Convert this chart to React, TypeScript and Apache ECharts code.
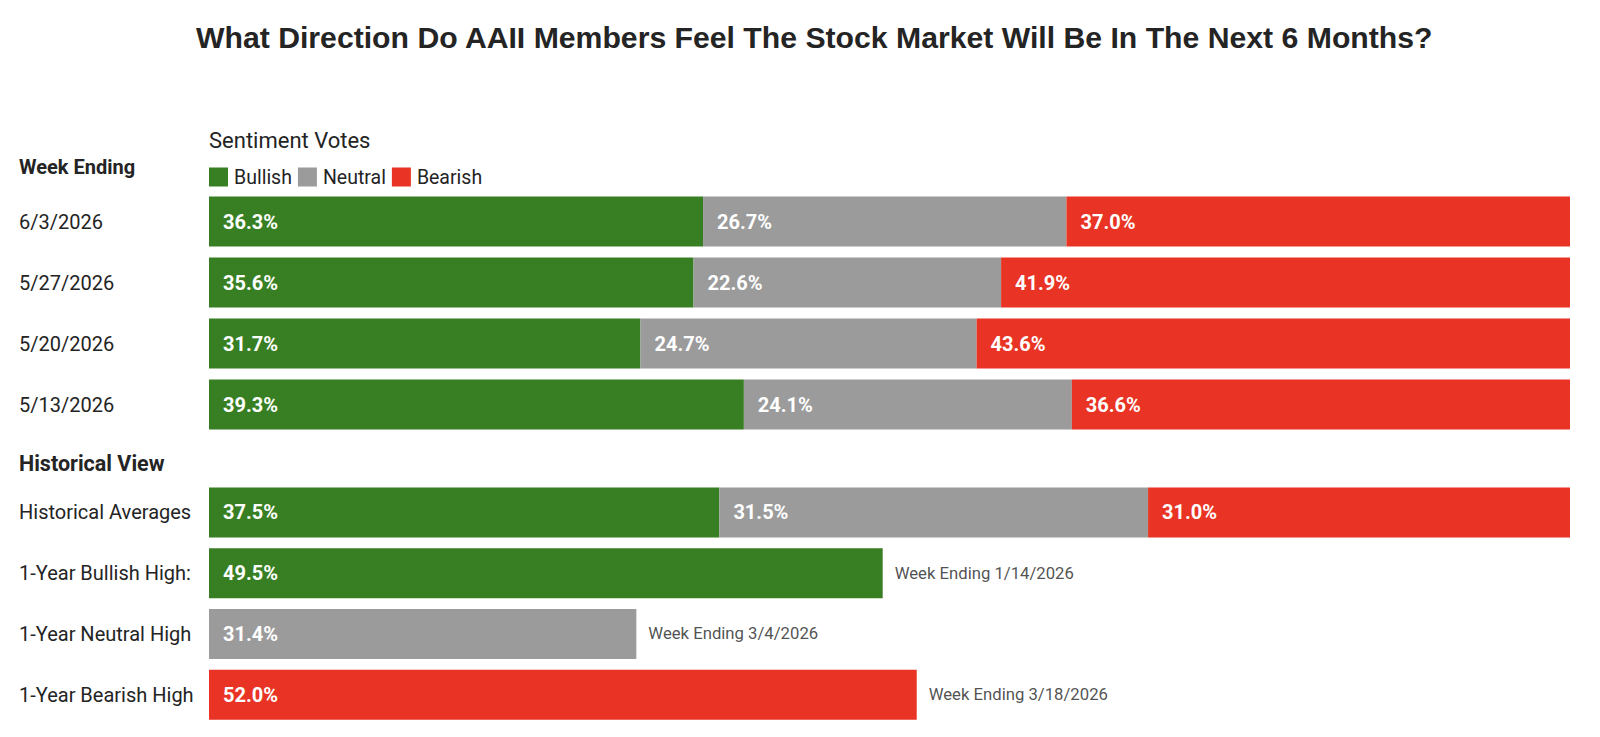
import React, { useEffect, useRef } from "react";
import * as echarts from "echarts";

const titleText = "What Direction Do AAII Members Feel The Stock Market Will Be In The Next 6 Months?";
const weeks = ["6/3/2026", "5/27/2026", "5/20/2026", "5/13/2026"];
const weekBullish = [36.3, 35.6, 31.7, 39.3];
const weekNeutral = [26.7, 22.6, 24.7, 24.1];
const weekBearish = [37.0, 41.9, 43.6, 36.6];

const histLabels = ["Historical Averages", "1-Year Bullish High:", "1-Year Neutral High", "1-Year Bearish High"];
const histBullish = [37.5, 49.5, 0, 0];
const histNeutral = [31.5, 0, 31.4, 0];
const histBearish = [31.0, 0, 0, 52.0];
const histNotes = ["", "Week Ending 1/14/2026", "Week Ending 3/4/2026", "Week Ending 3/18/2026"];

const GREEN = "#387f23";
const GREY = "#9b9b9b";
const RED = "#e93324";
const TEXT = "#242424";
const FONT = "Roboto";

export default function App() {
  const ref = useRef<HTMLDivElement>(null);
  useEffect(() => {
    if (!ref.current) return;
    const chart = echarts.init(ref.current, undefined, { renderer: "svg" });

    const valueLabel = {
      show: true,
      position: "insideLeft",
      distance: 14,
      color: "#ffffff",
      fontFamily: FONT,
      fontWeight: "bold",
      fontSize: 20,
      formatter: (p: any) => (p.value ? Number(p.value).toFixed(1) + "%" : ""),
    };

    const mkBar = (name: string, color: string, data: number[], idx: number, stack: string) => ({
      type: "bar",
      name,
      stack,
      xAxisIndex: idx,
      yAxisIndex: idx,
      barWidth: 50,
      itemStyle: { color },
      label: valueLabel,
      emphasis: { disabled: true },
      data,
    });

    const noteData = histNotes
      .map((n, i) => ({ n, i }))
      .filter((d) => d.n)
      .map((d) => ({
        value: [histBullish[d.i] + histNeutral[d.i] + histBearish[d.i], d.i],
        note: d.n,
      }));

    const yAxisBase = {
      type: "category",
      inverse: true,
      axisLine: { show: false },
      axisTick: { show: false },
      splitLine: { show: false },
      axisLabel: {
        align: "left",
        margin: 190,
        color: TEXT,
        fontFamily: FONT,
        fontSize: 20,
      },
    };
    const xAxisBase = { type: "value", min: 0, max: 100, show: false };

    chart.setOption({
      animation: false,
      backgroundColor: "#ffffff",
      title: {
        text: titleText,
        left: 196,
        top: 22,
        padding: 0,
        textStyle: {
          fontFamily: "Liberation Sans",
          fontWeight: "bold",
          fontSize: 30.2,
          color: TEXT,
        },
      },
      legend: {
        left: 209,
        top: 167,
        padding: 0,
        icon: "rect",
        itemWidth: 19,
        itemHeight: 19,
        itemGap: 6,
        selectedMode: false,
        textStyle: { fontFamily: FONT, fontSize: 19.5, color: TEXT, padding: [0, 0, 0, 1] },
        data: ["Bullish", "Neutral", "Bearish"],
      },
      graphic: [
        {
          type: "text",
          left: 19,
          top: 157,
          style: { text: "Week Ending", fontFamily: FONT, fontWeight: "bold", fontSize: 20, fill: TEXT },
        },
        {
          type: "text",
          left: 19,
          top: 452,
          style: { text: "Historical View", fontFamily: FONT, fontWeight: "bold", fontSize: 21.5, fill: TEXT },
        },
        {
          type: "text",
          left: 209,
          top: 129,
          style: { text: "Sentiment Votes", fontFamily: FONT, fontSize: 22, fill: TEXT },
        },
      ],
      grid: [
        { left: 209, right: 30, top: 191, height: 244 },
        { left: 209, right: 30, top: 482, height: 243 },
      ],
      xAxis: [
        { ...xAxisBase, gridIndex: 0 },
        { ...xAxisBase, gridIndex: 1 },
      ],
      yAxis: [
        { ...yAxisBase, gridIndex: 0, data: weeks },
        { ...yAxisBase, gridIndex: 1, data: histLabels },
      ],
      series: [
        mkBar("Bullish", GREEN, weekBullish, 0, "w"),
        mkBar("Neutral", GREY, weekNeutral, 0, "w"),
        mkBar("Bearish", RED, weekBearish, 0, "w"),
        mkBar("Bullish", GREEN, histBullish, 1, "h"),
        mkBar("Neutral", GREY, histNeutral, 1, "h"),
        mkBar("Bearish", RED, histBearish, 1, "h"),
        {
          type: "scatter",
          name: "notes",
          xAxisIndex: 1,
          yAxisIndex: 1,
          symbolSize: 0,
          silent: true,
          label: {
            show: true,
            position: "right",
            distance: 12,
            color: TEXT,
            fontFamily: FONT,
            fontSize: 16.7,
            formatter: (p: any) => p.data.note,
          },
          data: noteData,
        },
      ],
    });
    return () => chart.dispose();
  }, []);
  return (
    <div
      ref={ref}
      style={{ position: "fixed", left: 0, top: 0, width: 1600, height: 737, background: "#fff" }}
    />
  );
}
